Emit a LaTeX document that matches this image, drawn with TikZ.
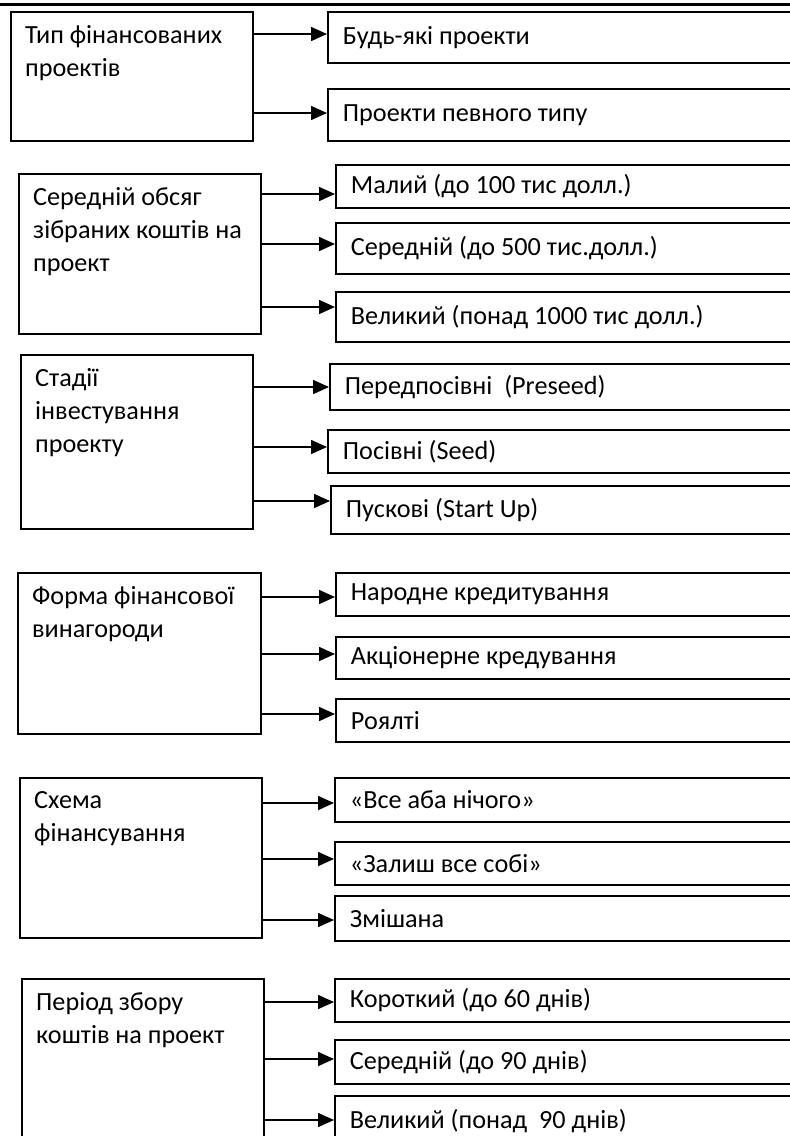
\documentclass[tikz,border=0pt]{standalone}
\usepackage{fontspec}
\setmainfont{Carlito}
\usetikzlibrary{arrows.meta}
\tikzset{group box/.style={draw=black, line width=1.8pt, rectangle, anchor=north west}}
\tikzset{group text/.style={anchor=north west, align=left, inner xsep=15pt, inner ysep=14.5pt}}
\tikzset{item box/.style={draw=black, line width=1.8pt, rectangle, anchor=north west, minimum width=500pt, text width=470pt, align=flush left, inner xsep=15pt, inner ysep=0pt}}
\tikzset{branch/.style={-{Triangle[length=16pt,width=14pt]}, line width=1.6pt}}

\begin{document}
\begin{tikzpicture}[x=1pt, y=-1pt, font=\fontsize{26.2}{33}\selectfont]
\path[use as bounding box, clip] (0,0) rectangle (790,1136);
\draw[line width=3pt] (0,4) -- (790,4);

% type of projects
\node[group box, minimum width=242, minimum height=129] (kind) at (10,11) {};
\node[group text] (kind text) at (kind.north west) {Тип фінансованих\\проектів};
\node[item box, minimum height=51] (kind a) at (327,11) {Будь-які проекти};
\node[item box, minimum height=52] (kind b) at (327,88) {Проекти певного типу};
\draw[branch] (kind.east |- 0,34) -- (kind a.west |- 0,34);
\draw[branch] (kind.east |- 0,113) -- (kind b.west |- 0,113);

% average amount
\node[group box, minimum width=242, minimum height=160] (size) at (18,173) {};
\node[group text] (size text) at (size.north west) {Середній обсяг\\зібраних коштів на\\проект};
\node[item box, minimum height=43] (size a) at (335,164) {Малий (до 100 тис долл.)};
\node[item box, minimum height=51] (size b) at (335,222) {Середній (до 500 тис.долл.)};
\node[item box, minimum height=50] (size c) at (335,291) {Великий (понад 1000 тис долл.)};
\draw[branch] (size.east |- 0,194) -- (size a.west |- 0,194);
\draw[branch] (size.east |- 0,244) -- (size b.west |- 0,244);
\draw[branch] (size.east |- 0,307) -- (size c.west |- 0,307);

% stages
\node[group box, minimum width=232, minimum height=174] (stage) at (20,354) {};
\node[group text] (stage text) at (stage.north west) {Стадії\\інвестування\\проекту};
\node[item box, minimum height=46] (stage a) at (329,363) {Передпосівні\ \ (Preseed)};
\node[item box, minimum height=43] (stage b) at (327,429) {Посівні (Seed)};
\node[item box, minimum height=48] (stage c) at (330,485) {Пускові (Start Up)};
\draw[branch] (stage.east |- 0,387) -- (stage a.west |- 0,387);
\draw[branch] (stage.east |- 0,447) -- (stage b.west |- 0,447);
\draw[branch] (stage.east |- 0,501) -- (stage c.west |- 0,501);

% reward
\node[group box, minimum width=243, minimum height=161] (reward) at (17,572) {};
\node[group text] (reward text) at (reward.north west) {Форма фінансової\\винагороди};
\node[item box, minimum height=43] (reward a) at (335,572) {Народне кредитування};
\node[item box, minimum height=42] (reward b) at (335,636) {Акціонерне кредування};
\node[item box, minimum height=43] (reward c) at (335,698) {Роялті};
\draw[branch] (reward.east |- 0,597) -- (reward a.west |- 0,597);
\draw[branch] (reward.east |- 0,654) -- (reward b.west |- 0,654);
\draw[branch] (reward.east |- 0,714) -- (reward c.west |- 0,714);

% scheme
\node[group box, minimum width=242, minimum height=160] (scheme) at (19,777) {};
\node[group text] (scheme text) at (scheme.north west) {Схема\\фінансування};
\node[item box, minimum height=44] (scheme a) at (334,777) {«Все аба нічого»};
\node[item box, minimum height=43] (scheme b) at (334,841) {«Залиш все собі»};
\node[item box, minimum height=45] (scheme c) at (334,895) {Змішана};
\draw[branch] (scheme.east |- 0,803) -- (scheme a.west |- 0,803);
\draw[branch] (scheme.east |- 0,859) -- (scheme b.west |- 0,859);
\draw[branch] (scheme.east |- 0,920) -- (scheme c.west |- 0,920);

% period
\node[group box, minimum width=242, minimum height=180] (period) at (21,978) {};
\node[group text] (period text) at (period.north west) {Період збору\\коштів на проект};
\node[item box, minimum height=43] (period a) at (334,978) {Короткий (до 60 днів)};
\node[item box, minimum height=44] (period b) at (334,1039) {Середній (до 90 днів)};
\node[item box, minimum height=50] (period c) at (334,1095) {Великий (понад\ \ 90 днів)};
\draw[branch] (period.east |- 0,1002) -- (period a.west |- 0,1002);
\draw[branch] (period.east |- 0,1059) -- (period b.west |- 0,1059);
\draw[branch] (period.east |- 0,1120) -- (period c.west |- 0,1120);
\end{tikzpicture}
\end{document}
